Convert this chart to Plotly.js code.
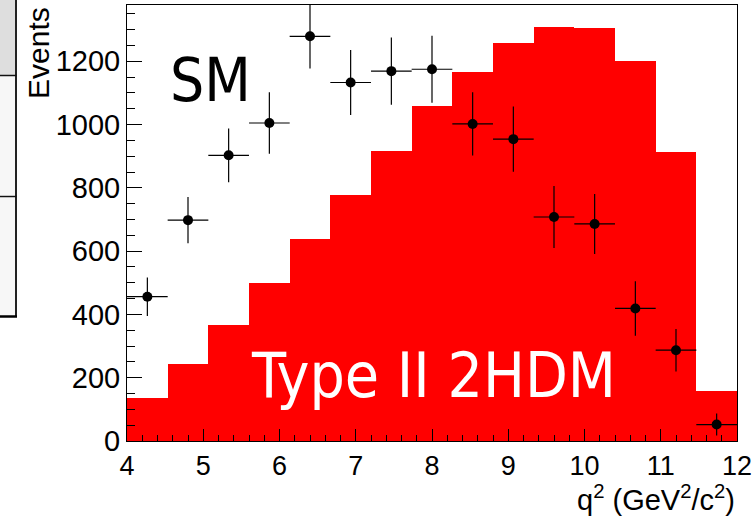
<!DOCTYPE html>
<html>
<head>
<meta charset="utf-8">
<script src="https://cdn.plot.ly/plotly-3.0.1.min.js"></script>
<style>
html,body{margin:0;padding:0;background:#fff;}
#chart{width:756px;height:518px;}
</style>
</head>
<body>
<div id="chart"></div>
<script>
// q^2 bins (GeV^2/c^2), 15 bins from 4 to 12
const binCenters = [4.267, 4.8, 5.333, 5.867, 6.4, 6.933, 7.467, 8.0, 8.533, 9.067, 9.6, 10.133, 10.667, 11.2, 11.733];
const binHalfWidths = [0.2667, 0.2667, 0.2667, 0.2667, 0.2667, 0.2667, 0.2667, 0.2667, 0.2667, 0.2667, 0.2667, 0.2667, 0.2667, 0.2667, 0.2667];
const binWidths = [0.5333, 0.5333, 0.5333, 0.5333, 0.5333, 0.5333, 0.5333, 0.5333, 0.5333, 0.5333, 0.5333, 0.5333, 0.5333, 0.5333, 0.5333];
// Type II 2HDM expectation (red histogram)
const twoHDM = [135, 244, 366, 499, 637, 779, 918, 1058, 1167, 1258, 1310, 1306, 1200, 914, 157];
// SM data points and errors
const smEvents = [456, 698, 903, 1005, 1279, 1133, 1169, 1175, 1002, 954, 708, 686, 419, 287, 52];
const smErrors = [61, 73, 85, 97, 102, 103, 106, 106, 100, 103, 98, 95, 86, 67, 35];
const xTickVals = [4, 5, 6, 7, 8, 9, 10, 11, 12];
const yTickVals = [0, 200, 400, 600, 800, 1000, 1200];

const baseFont = 'Liberation Sans, Arial, sans-serif';
const labelFont = "'Liberation Sans Narrow', 'DejaVu Sans Condensed', 'Liberation Sans', sans-serif";

const traces = [
  {
    type: 'bar',
    name: 'Type II 2HDM',
    x: binCenters,
    y: twoHDM,
    width: binWidths,
    marker: {color: '#ff0000', line: {width: 0}},
    hoverinfo: 'x+y',
    showlegend: false
  },
  {
    type: 'scatter',
    mode: 'markers',
    name: 'SM',
    x: binCenters,
    y: smEvents,
    marker: {color: '#000', size: 10},
    error_y: {type: 'data', array: smErrors, visible: true, color: '#000', thickness: 1.2, width: 0},
    error_x: {type: 'data', array: binHalfWidths, visible: true, color: '#000', thickness: 1.2, width: 0},
    showlegend: false
  }
];

const xp = px => (px - 127) / 610;
const yp = py => (441 - py) / 436;

const layout = {
  width: 756, height: 518,
  margin: {l: 127, r: 19, t: 5, b: 77},
  paper_bgcolor: '#fff', plot_bgcolor: '#fff',
  bargap: 0,
  showlegend: false,
  xaxis: {
    range: [4, 12],
    tickvals: xTickVals,
    ticks: 'inside', ticklen: 12, tickwidth: 1, tickcolor: '#000',
    minor: {dtick: 0.2, ticks: 'inside', ticklen: 6, tickwidth: 1, tickcolor: '#000', showgrid: false},
    showline: true, linecolor: '#000', linewidth: 1, mirror: true,
    showgrid: false, zeroline: false,
    tickfont: {family: baseFont, size: 27, color: '#000'},
    ticklabelstandoff: 1
  },
  yaxis: {
    range: [0, 1378],
    tickvals: yTickVals,
    ticks: 'inside', ticklen: 15, tickwidth: 1, tickcolor: '#000',
    minor: {dtick: 50, ticks: 'inside', ticklen: 8, tickwidth: 1, tickcolor: '#000', showgrid: false},
    showline: true, linecolor: '#000', linewidth: 1, mirror: true,
    showgrid: false, zeroline: false,
    tickfont: {family: baseFont, size: 29, color: '#000'},
    ticklabelstandoff: 0
  },
  annotations: [
    {text: 'Events', xref: 'paper', yref: 'paper', x: xp(38), y: yp(5), xanchor: 'center', yanchor: 'top',
     textangle: -90, showarrow: false, font: {family: baseFont, size: 30, color: '#000'}},
    {text: 'q<sup>2</sup> (GeV<sup>2</sup>/c<sup>2</sup>)', xref: 'paper', yref: 'paper', x: 1, y: yp(518), xanchor: 'right', yanchor: 'bottom',
     showarrow: false, font: {family: baseFont, size: 29, color: '#000'}},
    {text: 'SM', xref: 'paper', yref: 'paper', x: xp(168), y: yp(80), xanchor: 'left', yanchor: 'middle',
     showarrow: false, font: {family: labelFont, size: 60, color: '#000'}},
    {text: 'Type II 2HDM', xref: 'paper', yref: 'paper', x: xp(433), y: yp(375), xanchor: 'center', yanchor: 'middle',
     showarrow: false, font: {family: labelFont, size: 62, color: '#fff'}}
  ],
  shapes: [
    {type: 'rect', xref: 'paper', yref: 'paper', x0: xp(-5), x1: xp(16), y0: yp(75), y1: yp(-5), fillcolor: '#dedede', line: {width: 0}, layer: 'above'},
    {type: 'rect', xref: 'paper', yref: 'paper', x0: xp(-5), x1: xp(16), y0: yp(195), y1: yp(75), fillcolor: '#f7f7f7', line: {width: 0}, layer: 'above'},
    {type: 'rect', xref: 'paper', yref: 'paper', x0: xp(-5), x1: xp(16), y0: yp(316), y1: yp(197), fillcolor: '#f7f7f7', line: {width: 0}, layer: 'above'},
    {type: 'line', xref: 'paper', yref: 'paper', x0: xp(16), x1: xp(16), y0: yp(317), y1: yp(-5), line: {color: '#222', width: 2}},
    {type: 'line', xref: 'paper', yref: 'paper', x0: xp(-5), x1: xp(16.5), y0: yp(75.5), y1: yp(75.5), line: {color: '#111', width: 1.5}},
    {type: 'line', xref: 'paper', yref: 'paper', x0: xp(-5), x1: xp(16.5), y0: yp(196.5), y1: yp(196.5), line: {color: '#111', width: 1.5}},
    {type: 'line', xref: 'paper', yref: 'paper', x0: xp(-5), x1: xp(17), y0: yp(316.5), y1: yp(316.5), line: {color: '#000', width: 2.5}}
  ]
};

Plotly.newPlot('chart', traces, layout, {displayModeBar: false, staticPlot: true});
</script>
</body>
</html>
